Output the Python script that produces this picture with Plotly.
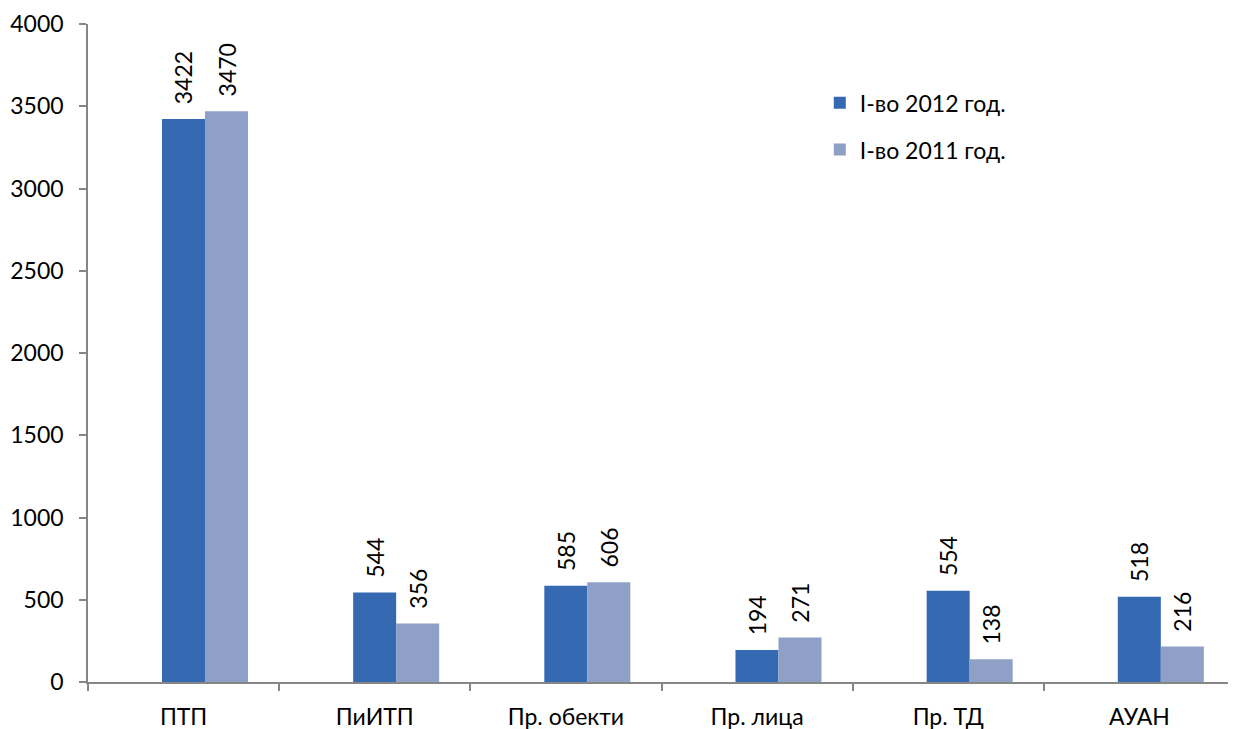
import plotly.graph_objects as go

categories = ["ПТП", "ПиИТП", "Пр. обекти", "Пр. лица", "Пр. ТД", "АУАН"]
values_2012 = [3422, 544, 585, 194, 554, 518]
values_2011 = [3470, 356, 606, 271, 138, 216]
series_names = ["I-во 2012 год.", "I-во 2011 год."]

font_family = "Lato, 'Open Sans', 'Liberation Sans', sans-serif"
pad = "\u00a0\u00a0"

fig = go.Figure()
fig.add_trace(go.Bar(
    x=categories, y=values_2012, name=series_names[0],
    marker=dict(color="#3569B2", line=dict(width=0)),
    width=0.225, offset=-0.113,
    text=[pad + str(v) for v in values_2012], textposition="outside",
    textangle=-90, textfont=dict(size=23, color="#000000"),
    constraintext="none",
    cliponaxis=False, legendgroup="a",
))
fig.add_trace(go.Bar(
    x=categories, y=values_2011, name=series_names[1],
    marker=dict(color="#8EA0C5", line=dict(width=0)),
    width=0.225, offset=0.112,
    text=[pad + str(v) for v in values_2011], textposition="outside",
    textangle=-90, textfont=dict(size=23, color="#000000"),
    constraintext="none",
    cliponaxis=False, legendgroup="b",
))

fig.update_layout(
    width=1228, height=721,
    barmode="overlay",
    paper_bgcolor="white", plot_bgcolor="white",
    margin=dict(l=80, r=1, t=16, b=47),
    font=dict(family=font_family, size=23, color="#000000"),
    showlegend=True,
    legend=dict(x=0.638, y=0.913, xanchor="left", yanchor="top",
                font=dict(size=23), tracegroupgap=14, bgcolor="rgba(0,0,0,0)"),
    xaxis=dict(showline=True, linecolor="#868686", linewidth=1.5,
               ticks="outside", tickson="boundaries", ticklen=7, tickcolor="#868686",
               tickwidth=1.5, showgrid=False, tickfont=dict(size=23),
               ticklabelstandoff=14, automargin=False),
    yaxis=dict(range=[0, 4000], dtick=500, showline=True, linecolor="#868686",
               linewidth=1.5, ticks="outside", ticklen=7, tickcolor="#868686",
               tickwidth=1.5, showgrid=False, zeroline=False, tickfont=dict(size=23),
               ticklabelstandoff=11, automargin=False),
)

fig.write_html("out.html")
